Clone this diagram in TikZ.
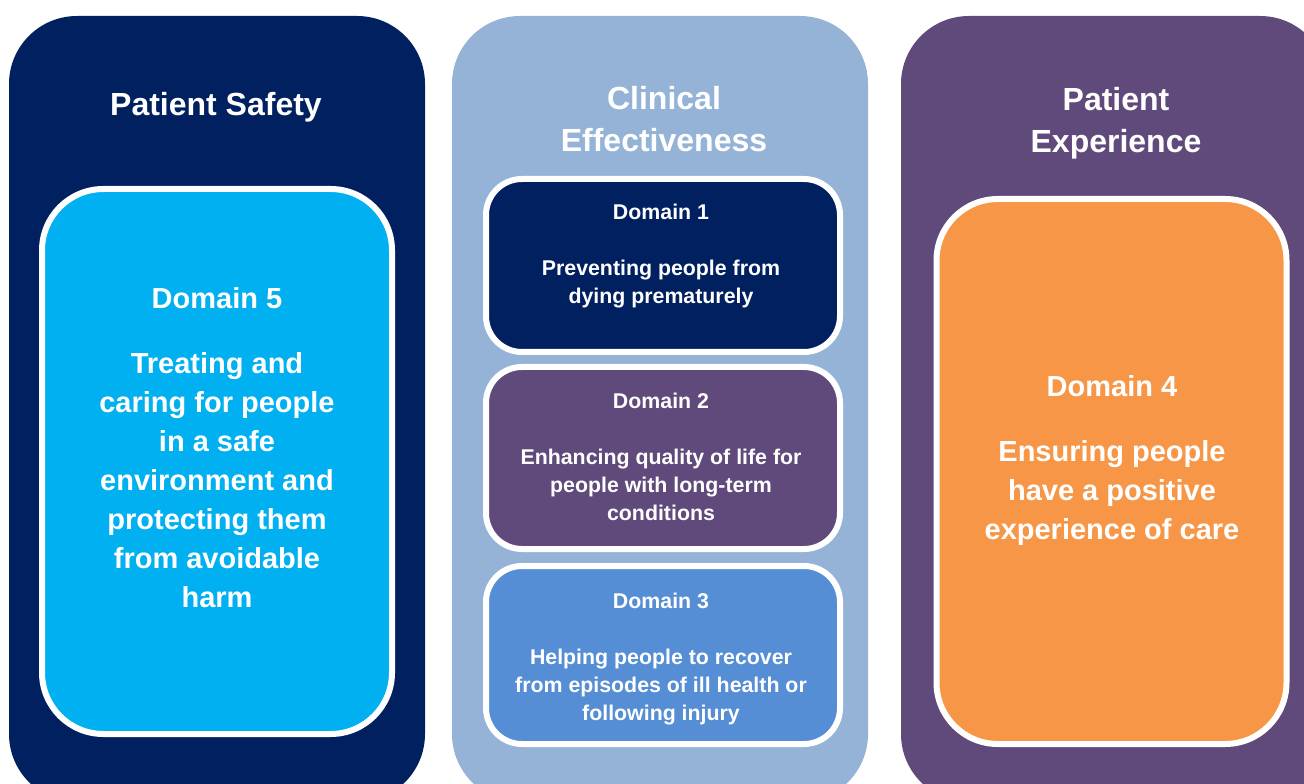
\documentclass[tikz,border=0pt]{standalone}
\usepackage{fontspec}
\setmainfont{Liberation Sans}
\usepackage{tikz}
\usetikzlibrary{positioning}

\definecolor{navy}{HTML}{002060}
\definecolor{paleblue}{HTML}{95B3D7}
\definecolor{plum}{HTML}{604A7B}
\definecolor{skyblue}{HTML}{00B0F0}
\definecolor{midblue}{HTML}{558ED5}
\definecolor{peach}{HTML}{F79646}

\begin{document}
\begin{tikzpicture}[x=0.75pt, y=-0.75pt,
    pillar/.style={rectangle, rounded corners=51pt, inner sep=0pt,
                   minimum width=312pt, minimum height=589.5pt},
    bigbox/.style={rectangle, draw=white, line width=4.5pt, rounded corners=46pt,
                   minimum width=262.5pt, minimum height=408.75pt},
    smallbox/.style={rectangle, draw=white, line width=4.5pt, rounded corners=27pt,
                     minimum width=265.5pt},
    heading/.style={anchor=north, inner sep=0pt, align=center, text=white,
                    font=\fontsize{24}{31.5}\selectfont\bfseries},
    bigtext/.style={anchor=north, inner sep=0pt, align=center, text=white,
                    font=\fontsize{21.75}{29.25}\selectfont\bfseries},
    smalltext/.style={anchor=north, inner sep=0pt, align=center, text=white,
                      font=\fontsize{16}{21}\selectfont\bfseries}]
    \useasboundingbox (0,0) rectangle (1304,784);
    \fill[white] (0,0) rectangle (1304,784);
    \clip (0,0) rectangle (1304,784);

    % the three columns
    \node[pillar, fill=navy] (safety) at (217,409) {};
    \node[pillar, fill=paleblue] (clinical) at (660,409) {};
    \node[pillar, fill=plum, minimum width=320.25pt] (experience) at (1114.5,409) {};

    \node[heading] (safetytitle) at (216,92) {Patient Safety};
    \node[heading] (clinicaltitle) at (664,86) {Clinical\\Effectiveness};
    \node[heading] (experiencetitle) at (1116,87) {Patient\\Experience};

    % domain boxes
    \node[bigbox, fill=skyblue] (d5) at (217,461.5) {};
    \node[smallbox, fill=navy, minimum height=129.75pt] (d1) at (663,265.5) {};
    \node[smallbox, fill=plum, minimum height=136.5pt, below=6.75pt of d1] (d2) {};
    \node[smallbox, fill=midblue, minimum height=133.5pt, below=8.25pt of d2] (d3) {};
    \node[bigbox, fill=peach] (d4) at (1111.5,471.5) {};

    \node[bigtext] (d5text) at (217,287) {Domain 5\\[19.5pt]Treating and\\caring for people\\in a safe\\environment and\\protecting them\\from avoidable\\harm};
    \node[smalltext] (d1text) at (661,204) {Domain 1\\[21pt]Preventing people from\\dying prematurely};
    \node[smalltext] (d2text) at (661,393) {Domain 2\\[21pt]Enhancing quality of life for\\people with long-term\\conditions};
    \node[smalltext] (d3text) at (661,593) {Domain 3\\[21pt]Helping people to recover\\from episodes of ill health or\\following injury};
    \node[bigtext] (d4text) at (1112,375) {Domain 4\\[19.5pt]Ensuring people\\have a positive\\experience of care};
\end{tikzpicture}
\end{document}
